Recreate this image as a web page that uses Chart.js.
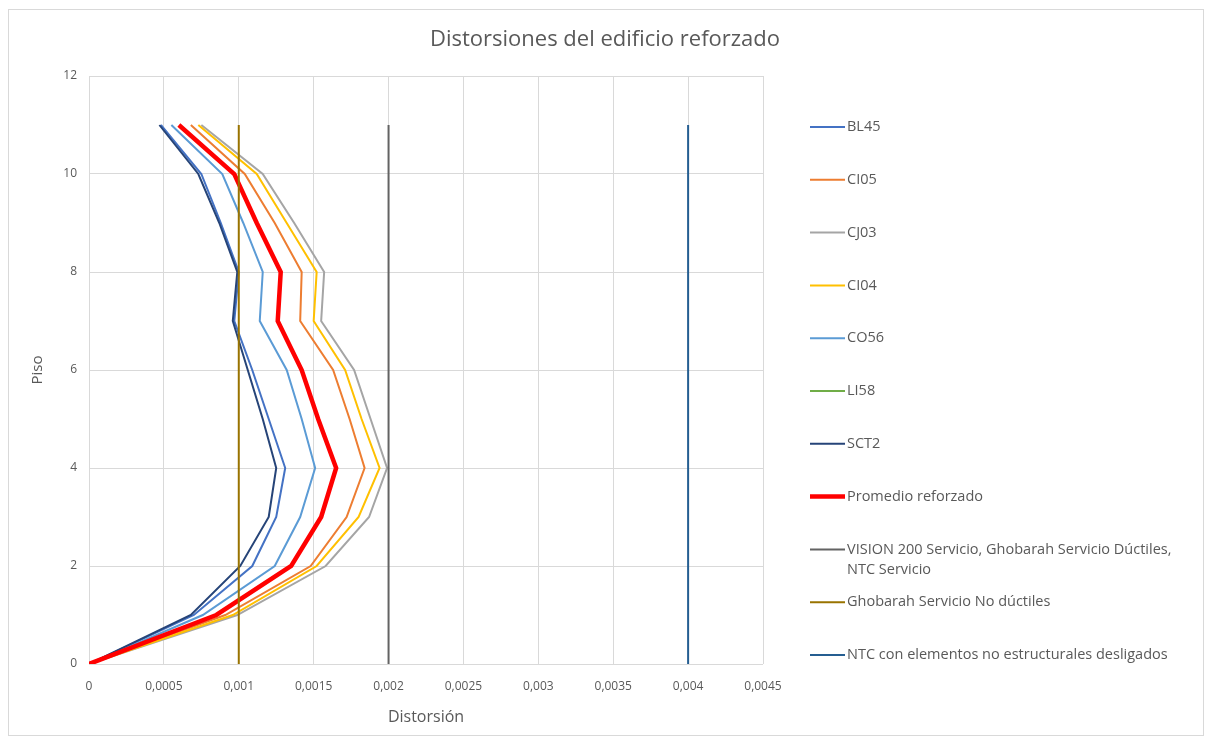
<!DOCTYPE html>
<html>
<head>
<meta charset="utf-8">
<title>Distorsiones del edificio reforzado</title>
<script src="https://cdn.jsdelivr.net/npm/chart.js@4.4.1/dist/chart.umd.min.js"></script>
<style>
  html, body { margin: 0; padding: 0; background: #fff; }
  #wrap { position: relative; width: 1208px; height: 742px; }
  #frame { position: absolute; left: 8px; top: 9px; width: 1194px; height: 725px; border: 1px solid #d9d9d9; pointer-events: none; }
  canvas { position: absolute; left: 0; top: 0; }
</style>
</head>
<body>
<div id="wrap">
  <canvas id="distorsiones" width="1208" height="742"></canvas>
  <div id="frame"></div>
</div>
<script>
// pisos del edificio
const floors = [0, 1, 2, 3, 4, 5, 6, 7, 8, 9, 10, 11]

// distorsiones por registro (piso 0 a 11)
const bl45 = [0, 0.00070, 0.00109, 0.00125, 0.00131, 0.00120, 0.00109, 0.00097, 0.00100, 0.00088, 0.00075, 0.00048]
const ci05 = [0, 0.00091, 0.00148, 0.00172, 0.00184, 0.00174, 0.00163, 0.00141, 0.00142, 0.00124, 0.00104, 0.00068]
const cj03 = [0, 0.00099, 0.00158, 0.00187, 0.00199, 0.00188, 0.00177, 0.00155, 0.00157, 0.00137, 0.00116, 0.00075]
const ci04 = [0, 0.00096, 0.00152, 0.00180, 0.00194, 0.00182, 0.00171, 0.00150, 0.00152, 0.00132, 0.00112, 0.00073]
const co56 = [0, 0.00076, 0.00124, 0.00141, 0.00151, 0.00142, 0.00132, 0.00114, 0.00116, 0.00103, 0.00089, 0.00055]
const li58 = []
const sct2 = [0, 0.00068, 0.00101, 0.00120, 0.00125, 0.00116, 0.00106, 0.00096, 0.00099, 0.00087, 0.00073, 0.00047]
const promedio = [0, 0.00085, 0.00135, 0.00155, 0.00165, 0.00153, 0.00142, 0.00126, 0.00128, 0.00112, 0.00097, 0.00060]

// limites de distorsion (lineas verticales hasta el piso 11)
const limitFloors = [0, 11]
const visionLimit = 0.002
const ghobarahLimit = 0.001
const ntcLimit = 0.004

const xTickLabels = ['0', '0,0005', '0,001', '0,0015', '0,002', '0,0025', '0,003', '0,0035', '0,004', '0,0045']

const TEXT = '#595959'
const FONT = '"Open Sans", "Noto Sans", sans-serif'

const toPoints = (values) => values.map((v, i) => ({ x: v, y: floors[i] }))
const vertical = (x) => limitFloors.map(y => ({ x: x, y: y }))

const series = [
  { label: 'BL45', data: toPoints(bl45), color: '#4472C4', width: 2 },
  { label: 'CI05', data: toPoints(ci05), color: '#ED7D31', width: 2 },
  { label: 'CJ03', data: toPoints(cj03), color: '#A5A5A5', width: 2 },
  { label: 'CI04', data: toPoints(ci04), color: '#FFC000', width: 2 },
  { label: 'CO56', data: toPoints(co56), color: '#5B9BD5', width: 2 },
  { label: 'LI58', data: toPoints(li58), color: '#70AD47', width: 2 },
  { label: 'SCT2', data: toPoints(sct2), color: '#264478', width: 2 },
  { label: 'Promedio reforzado', data: toPoints(promedio), color: '#FF0000', width: 4.5 },
  { label: ['VISION 200 Servicio, Ghobarah Servicio Dúctiles,', 'NTC Servicio'], data: vertical(visionLimit), color: '#636363', width: 2 },
  { label: 'Ghobarah Servicio No dúctiles', data: vertical(ghobarahLimit), color: '#997300', width: 2 },
  { label: 'NTC con elementos no estructurales desligados', data: vertical(ntcLimit), color: '#255E91', width: 2 }
]

// titulo centrado en todo el lienzo y leyenda a la derecha
const sidePlugin = {
  id: 'sideLegend',
  afterDraw (chart) {
    const ctx = chart.ctx
    ctx.save()
    ctx.fillStyle = TEXT
    ctx.textBaseline = 'middle'
    ctx.textAlign = 'center'
    ctx.font = '22px ' + FONT
    ctx.fillText('Distorsiones del edificio reforzado', 605, 40)

    ctx.textAlign = 'left'
    ctx.font = '14.5px ' + FONT
    series.forEach((s, i) => {
      const y = 127 + i * 52.8
      ctx.strokeStyle = s.color
      ctx.lineWidth = s.width
      ctx.beginPath()
      ctx.moveTo(810, y)
      ctx.lineTo(845, y)
      ctx.stroke()
      const lines = Array.isArray(s.label) ? s.label : [s.label]
      lines.forEach((t, k) => ctx.fillText(t, 847, y + k * 20))
    })
    ctx.restore()
  }
}

const datasets = series.map((s, i) => ({
  label: Array.isArray(s.label) ? s.label.join(' ') : s.label,
  data: s.data,
  borderColor: s.color,
  backgroundColor: s.color,
  borderWidth: s.width,
  pointRadius: 0,
  tension: 0,
  fill: false,
  order: series.length - i
}))

new Chart(document.getElementById('distorsiones'), {
  type: 'line',
  data: { datasets: datasets },
  options: {
    responsive: false,
    animation: false,
    layout: { padding: { left: 0, top: 76, right: 445, bottom: 0 } },
    plugins: {
      legend: { display: false },
      title: { display: false },
      tooltip: { enabled: false }
    },
    scales: {
      x: {
        type: 'linear',
        min: 0,
        max: 0.0045,
        afterFit: (scale) => { scale.height = 78 },
        grid: { color: '#d9d9d9', drawTicks: false },
        border: { display: false },
        ticks: {
          stepSize: 0.0005,
          padding: 15,
          color: TEXT,
          font: { family: FONT, size: 12 },
          maxRotation: 0,
          autoSkip: false,
          callback: (value, index) => xTickLabels[index]
        },
        title: {
          display: true,
          text: 'Distorsión',
          color: TEXT,
          font: { family: FONT, size: 16 },
          padding: { top: 0, bottom: 15 }
        }
      },
      y: {
        type: 'linear',
        min: 0,
        max: 12,
        afterFit: (scale) => { scale.width = 89 },
        grid: { color: '#d9d9d9', drawTicks: false },
        border: { display: false },
        ticks: {
          stepSize: 2,
          padding: 12,
          color: TEXT,
          font: { family: FONT, size: 12 }
        },
        title: {
          display: true,
          text: 'Piso',
          color: TEXT,
          font: { family: FONT, size: 15 },
          padding: { top: 29, bottom: 0 }
        }
      }
    }
  },
  plugins: [sidePlugin]
})
</script>
</body>
</html>
